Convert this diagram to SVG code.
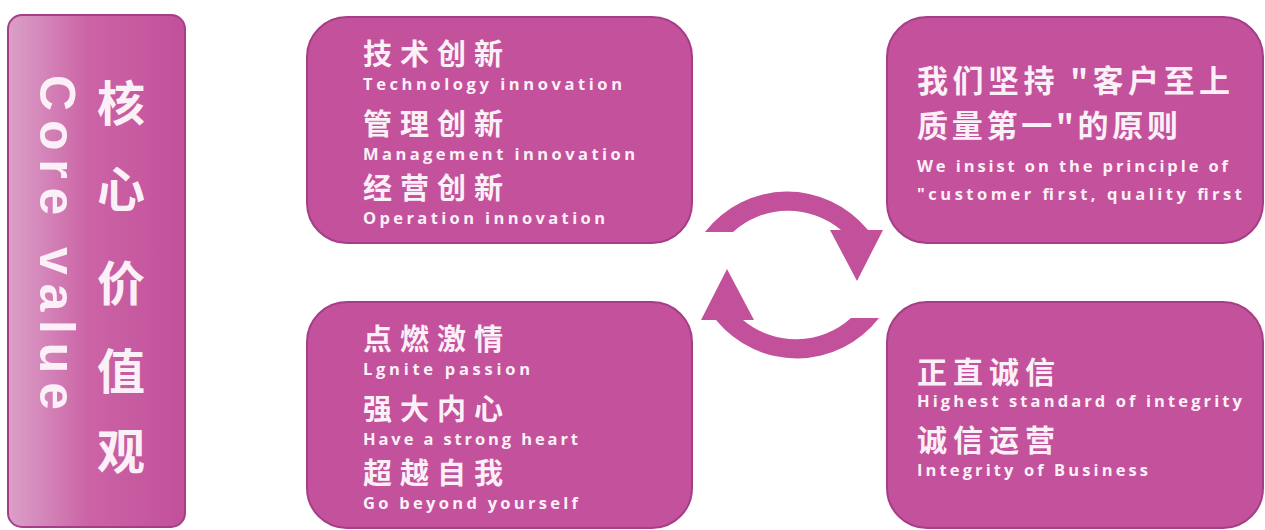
<svg xmlns="http://www.w3.org/2000/svg" width="1265" height="530" viewBox="0 0 1265 530">
<style>
.box{fill:#c4519b;stroke:#a63e87;stroke-width:2}
.cn{font-family:"Noto Sans CJK SC",sans-serif;font-weight:700;fill:#fbf0f7}
.en{font-family:"Open Sans","Noto Sans",sans-serif;font-weight:700;fill:#fbf0f7;font-size:16.5px}
.arrow{fill:#c2509b}
</style>
<defs>
<linearGradient id="barg" x1="0" y1="0" x2="1" y2="0">
<stop offset="0" stop-color="#dba0c9"/>
<stop offset="0.45" stop-color="#cb64a6"/>
<stop offset="1" stop-color="#c2509a"/>
</linearGradient>
</defs>
<rect width="1265" height="530" fill="#ffffff"/>
<g id="core-bar">
<rect x="8" y="15" width="177" height="512" rx="14" fill="url(#barg)" stroke="#a63e87" stroke-width="2"/>
<text transform="translate(40,75) rotate(90)" x="0" y="0" font-family="Liberation Sans,sans-serif" font-weight="700" font-size="50" fill="#fbf0f7" textLength="335" lengthAdjust="spacing">Core value</text>
<text class="cn" x="121" y="121" font-size="48" text-anchor="middle">核</text>
<text class="cn" x="121" y="207" font-size="48" text-anchor="middle">心</text>
<text class="cn" x="121" y="301" font-size="48" text-anchor="middle">价</text>
<text class="cn" x="121" y="389" font-size="48" text-anchor="middle">值</text>
<text class="cn" x="121" y="469" font-size="48" text-anchor="middle">观</text>
</g>
<g id="innovation">
<rect class="box" x="307" y="17" width="385" height="226" rx="40"/>
<text class="cn" x="363" y="65" font-size="29" textLength="140" lengthAdjust="spacing">技术创新</text>
<text class="en" x="363" y="90" textLength="259" lengthAdjust="spacing">Technology innovation</text>
<text class="cn" x="363" y="135" font-size="29" textLength="140" lengthAdjust="spacing">管理创新</text>
<text class="en" x="363" y="160" textLength="272" lengthAdjust="spacing">Management innovation</text>
<text class="cn" x="363" y="199" font-size="29" textLength="140" lengthAdjust="spacing">经营创新</text>
<text class="en" x="363" y="224" textLength="242" lengthAdjust="spacing">Operation innovation</text>
</g>
<g id="principle">
<rect class="box" x="887" y="17" width="376" height="226" rx="40"/>
<text class="cn" x="917" y="92" font-size="31" textLength="313" lengthAdjust="spacing">我们坚持 "客户至上</text>
<text class="cn" x="917" y="137" font-size="31" textLength="261" lengthAdjust="spacing">质量第一"的原则</text>
<text class="en" x="917" y="172" textLength="311" lengthAdjust="spacing">We insist on the principle of</text>
<text class="en" x="917" y="200" textLength="325" lengthAdjust="spacing">"customer first, quality first</text>
</g>
<g id="passion">
<rect class="box" x="307" y="302" width="385" height="226" rx="40"/>
<text class="cn" x="363" y="350" font-size="29" textLength="140" lengthAdjust="spacing">点燃激情</text>
<text class="en" x="363" y="375" textLength="167" lengthAdjust="spacing">Lgnite  passion</text>
<text class="cn" x="363" y="420" font-size="29" textLength="140" lengthAdjust="spacing">强大内心</text>
<text class="en" x="363" y="445" textLength="215" lengthAdjust="spacing">Have a strong heart</text>
<text class="cn" x="363" y="484" font-size="29" textLength="140" lengthAdjust="spacing">超越自我</text>
<text class="en" x="363" y="509" textLength="215" lengthAdjust="spacing">Go beyond yourself</text>
</g>
<g id="integrity">
<rect class="box" x="887" y="302" width="376" height="226" rx="40"/>
<text class="cn" x="917" y="383" font-size="30" textLength="138" lengthAdjust="spacing">正直诚信</text>
<text class="en" x="917" y="407" textLength="325" lengthAdjust="spacing">Highest standard of integrity</text>
<text class="cn" x="917" y="451" font-size="30" textLength="138" lengthAdjust="spacing">诚信运营</text>
<text class="en" x="917" y="476" textLength="231" lengthAdjust="spacing">Integrity of Business</text>
</g>
<g id="connectors">
<path id="arc-top" class="arrow" d="M705,232 A104,104 0 0 1 868,230 L883,230 L857,281 L830,230 L841,230 A82,82 0 0 0 733,232 Z"/>
<path id="arc-bottom" class="arrow" d="M705,232 A104,104 0 0 1 868,230 L883,230 L857,281 L830,230 L841,230 A82,82 0 0 0 733,232 Z" transform="rotate(180 792 275)"/>
</g>
</svg>
